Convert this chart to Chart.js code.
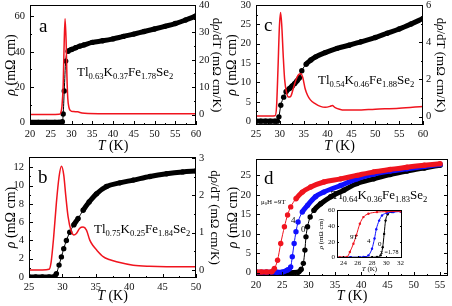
<!DOCTYPE html>
<html><head><meta charset="utf-8">
<script src="https://cdn.jsdelivr.net/npm/chart.js@4.4.0/dist/chart.umd.min.js"></script>
<style>
html,body{margin:0;padding:0;background:#fff;width:452px;height:306px;overflow:hidden;position:relative}
canvas{position:absolute;}
</style></head><body>
<canvas id="ca" width="226" height="153" style="left:0;top:0"></canvas>
<canvas id="cc" width="226" height="153" style="left:226px;top:0"></canvas>
<canvas id="cb" width="226" height="153" style="left:0;top:153px"></canvas>
<canvas id="cd" width="226" height="153" style="left:226px;top:153px"></canvas>
<canvas id="ci" width="92" height="72" style="left:316px;top:203px"></canvas>
<script>
// ---------- DATA ----------
// Panel a: Tl0.63K0.37Fe1.78Se2
const aT    = [20,22,24,26,27,27.8,28.0,28.25,28.6,29.2,30,31,32,33,35,37.5,40,42.5,45,47.5,50,52.5,55,57.5,60];
const aRho  = [0,0,0,0,0,0.3,4.7,17.8,34.7,40.3,41.3,42.3,43.2,43.9,45.3,46.2,47.3,48.7,50.0,51.5,52.9,54.4,56.0,58.0,60.3];
const aDT   = [20,25,27,27.4,27.7,28.0,28.2,28.45,28.7,28.9,29.1,29.4,29.8,30.5,31.5,32.5,34,40,50,60];
const aDrdT = [0,0,0.1,0.6,3,11,24,35,27,14,6,2.5,1.4,1.1,1.0,0.6,0.4,0.3,0.3,0.3];

// Panel c: Tl0.54K0.46Fe1.88Se2
const cT    = [25,26,27,28,29,29.5,29.8,30.2,30.8,31.3,32,32.6,33.1,33.6,34.1,34.6,35.5,36.5,37.5,39.5,42,44.5,47,50,52.5,55,57.5,60];
const cRho  = [0,0,0,0,0,0,1.1,4.1,6.2,7.6,8.4,9.1,9.7,10.4,11.2,13,14.7,15.8,16.6,17.7,18.8,19.6,20.5,21.6,22.7,23.8,25.1,26.5];
const cDT   = [25,28,29,29.3,29.6,29.9,30.15,30.4,30.7,31.0,31.4,31.8,32.3,32.8,33.4,33.9,34.4,34.8,35.3,35.8,36.4,37.4,38.5,39.5,40.5,41.0,41.5,42.5,43.5,46,50,55,60];
const cDrdT = [0.03,0.03,0.05,0.5,2.5,4.8,5.6,4.9,3.3,2.0,1.3,1.05,1.1,1.5,2.0,2.25,2.3,2.1,1.5,1.15,0.9,0.7,0.55,0.5,0.55,0.6,0.5,0.4,0.35,0.35,0.4,0.45,0.55];

// Panel b: Tl0.75K0.25Fe1.84Se2
const bT    = [25,26,27,28,28.7,29.1,29.5,29.85,30.2,30.6,31.1,31.7,32.35,33.1,34,35.1,36.6,38.6,40.6,43.1,45.6,48,50];
const bRho  = [0,0,0,0,0,0.37,1.3,2.2,3.1,4.0,4.9,5.7,6.4,7.3,8.2,9.1,9.9,10.3,10.6,11.0,11.3,11.5,11.6];
const bDT   = [25,27,28,28.3,28.7,29.1,29.5,29.85,30.2,30.5,30.85,31.3,31.7,32.1,32.6,33.1,33.6,34.1,34.6,35.1,36.1,37,38.1,40.6,43,45.6,50];
const bDrdT = [0,0,0.02,0.2,0.9,1.8,2.5,2.78,2.55,2.0,1.43,1.05,0.94,0.98,1.12,1.15,1.07,0.8,0.65,0.54,0.36,0.28,0.22,0.13,0.1,0.09,0.09];

// Panel d: Tl0.64K0.36Fe1.83Se2, fields 9T / 4T / 0T
const d9T = [20,21,22,23,23.5,24.1,24.7,25.4,26,26.6,27.6,28.8,30.4,32.9,36.1,39.2,42.4,45.5,48.7,52,55];
const d9R = [0.2,0.2,0.2,0.25,1.1,3.2,7.5,11.8,14.8,16.9,19,20.7,22,23.3,24.1,25,25.9,26.5,27.1,27.6,28];
const d4T = [20,22,24,25,26,26.6,26.9,27.25,27.6,28,28.8,29.8,31.3,32.9,36.1,39.2,42.4,45.5,48.7,52,55];
const d4R = [0.1,0.1,0.1,0.15,0.7,1.5,4.1,7.5,10.5,13,15.6,17.3,19.5,20.7,22.4,24.1,25.3,26.1,26.7,27.3,27.8];
const d0T = [20,22,24,26,28,28.6,29,29.3,29.5,29.8,30.3,31,32.3,34.2,36.7,39.2,42.4,45.5,48.7,52,55];
const d0R = [0,0,0,0,0.1,0.9,2.4,5.8,9.2,11.8,14.3,16,17.7,19.5,21.2,22.9,24.1,25.2,26.1,26.9,27.6];

// Inset of d: x = 1.78
const i9T = [23,23.5,24,24.5,24.9,25.4,25.8,26.3,26.8,27.5,28.7,30,32];
const i9R = [0,0,0.2,0.4,6.8,17.4,28,43,51.5,55.7,57.9,58.5,59];
const i4T = [23,25,26.3,26.8,27.5,28,28.35,28.6,29,29.4,30.1,31,32];
const i4R = [0,0,0.1,0.4,2.5,11,24,36,47,53.6,56.6,58,58.7];
const i0T = [23,25,27,28,28.7,29.2,29.5,29.7,29.9,30.2,30.8,32];
const i0R = [0,0,0,0,0.4,2.5,13,30,47,55,58,59];

// Tick labels
const aXTicks = [20,25,30,35,40,45,50,55,60];
const aYTicks = [0,20,40,60];
const aY2Ticks = [0,10,20,30,40];
const cXTicks = [25,30,35,40,45,50,55,60];
const cYTicks = [0,5,10,15,20,25,30];
const cY2Ticks = [0,2,4,6];
const bXTicks = [25,30,35,40,45,50];
const bYTicks = [0,2,4,6,8,10,12];
const bY2Ticks = [0,1,2,3];
const dXTicks = [20,25,30,35,40,45,50,55];
const dYTicks = [0,5,10,15,20,25];
const iXTicks = [24,26,28,30,32];
const iYTicks = [0,20,40,60];

// ---------- HELPERS ----------
const FF = '"Liberation Serif","Times New Roman",serif';
const RED = '#f0141e', BLUE = '#1010ff', BLACK = '#000';
const pts = (X, Y) => X.map((x, i) => ({x, y: Y[i]}));
const mids = (arr) => arr.slice(0, -1).map((v, i) => (v + arr[i + 1]) / 2);

function drawRich(ctx, parts, x, y, size, align, rot) {
  ctx.save();
  ctx.translate(x, y);
  if (rot) ctx.rotate(rot);
  let w = 0;
  const items = parts.map(([t, s]) => {
    const fs = s === 'sub' ? size * 0.66 : size;
    const f = (s === 'i' ? 'italic ' : '') + fs + 'px ' + FF;
    ctx.font = f;
    const tw = ctx.measureText(t).width;
    w += tw;
    return {t, f, tw, dy: s === 'sub' ? size * 0.3 : 0};
  });
  let cx = align === 'center' ? -w / 2 : (align === 'right' ? -w : 0);
  ctx.textBaseline = 'middle';
  ctx.textAlign = 'left';
  ctx.fillStyle = '#000';
  for (const p of items) { ctx.font = p.f; ctx.fillText(p.t, cx, p.dy); cx += p.tw; }
  ctx.restore();
}
function formula(els, subs) {
  const out = [];
  els.forEach((e, i) => { out.push([e, 'n']); out.push([subs[i], 'sub']); });
  return out;
}

const decor = {
  id: 'decor',
  afterDraw(chart, args, o) {
    const {ctx, chartArea: ca, scales} = chart;
    ctx.save();
    ctx.strokeStyle = '#000';
    ctx.lineWidth = 1;
    ctx.strokeRect(Math.round(ca.left) + 0.5, Math.round(ca.top) + 0.5,
      Math.round(ca.right - ca.left) - 1, Math.round(ca.bottom - ca.top) - 1);
    const L = o.tickLen || 4, l = o.minorLen || 2;
    for (const t of (o.ticks || [])) {
      const sc = scales[t.scale];
      const draw = (v, len) => {
        const p = Math.round(sc.getPixelForValue(v)) + 0.5;
        ctx.beginPath();
        if (t.side === 'bottom') { ctx.moveTo(p, ca.bottom); ctx.lineTo(p, ca.bottom - len); }
        else if (t.side === 'top') { ctx.moveTo(p, ca.top); ctx.lineTo(p, ca.top + len); }
        else if (t.side === 'left') { ctx.moveTo(ca.left, p); ctx.lineTo(ca.left + len, p); }
        else { ctx.moveTo(ca.right, p); ctx.lineTo(ca.right - len, p); }
        ctx.stroke();
      };
      t.major.forEach(v => draw(v, L));
      t.minor.forEach(v => draw(v, l));
    }
    const cy = (ca.top + ca.bottom) / 2, cx = (ca.left + ca.right) / 2;
    if (o.yTitle) drawRich(ctx, o.yTitle.parts, o.yTitle.x, cy, o.titleSize, 'center', -Math.PI / 2);
    if (o.y2Title) drawRich(ctx, o.y2Title.parts, o.y2Title.x, cy, o.y2Size || o.titleSize, 'center', Math.PI / 2);
    if (o.xTitle) drawRich(ctx, o.xTitle.parts, cx, o.xTitle.y, o.titleSize, 'center', 0);
    for (const t of (o.texts || [])) drawRich(ctx, t.parts, t.x, t.y, t.size, t.align || 'left', 0);
    ctx.restore();
  }
};
const bgPlugin = {
  id: 'bg',
  beforeDraw(chart, args, o) {
    if (!o.color) return;
    const {ctx, chartArea: ca} = chart;
    ctx.save(); ctx.fillStyle = o.color;
    ctx.fillRect(ca.left, ca.top, ca.right - ca.left, ca.bottom - ca.top);
    ctx.restore();
  }
};

function bandSeries(X, Y, axis, color, radius, thick) {
  return {
    data: pts(X, Y), yAxisID: axis, showLine: true,
    borderColor: color, backgroundColor: color,
    pointRadius: radius, pointBorderWidth: 0, pointBackgroundColor: color,
    cubicInterpolationMode: 'monotone',
    borderWidth: thick,
    segment: {
      borderWidth: c => {
        const dx = Math.abs(c.p1.x - c.p0.x), dy = Math.abs(c.p1.y - c.p0.y);
        return (dy > 1.5 * dx && dy > 4) ? 1 : thick;
      }
    }
  };
}
function lineSeries(X, Y, axis, color, w) {
  return {
    data: pts(X, Y), yAxisID: axis, showLine: true,
    borderColor: color, backgroundColor: color, pointRadius: 0,
    borderWidth: w, cubicInterpolationMode: 'monotone'
  };
}

function makeScale(pos, min, max, ticks, fitFn, fontSize, pad, showLabels) {
  return {
    type: 'linear', position: pos, min, max,
    grid: {display: false, drawTicks: false}, border: {display: false},
    afterBuildTicks: s => { s.ticks = ticks.map(v => ({value: v})); },
    afterFit: fitFn,
    ticks: {display: showLabels !== false, font: {family: FF, size: fontSize}, color: '#111', padding: pad,
            maxRotation: 0, autoSkip: false}
  };
}

function panel(id, spec) {
  const cv = document.getElementById(id);
  const W = cv.width, H = cv.height, A = spec.area, fs = spec.fontSize || 10.5;
  const scales = {
    x: makeScale('bottom', spec.x.min, spec.x.max, spec.x.ticks,
      s => { s.height = H - A.b; s.paddingLeft = 0; s.paddingRight = 0; }, fs, spec.x.pad ?? 3),
    y: makeScale('left', spec.y.min, spec.y.max, spec.y.ticks,
      s => { s.width = A.l; s.paddingTop = 0; s.paddingBottom = 0; }, fs, spec.y.pad ?? 5),
    y2: makeScale('right', spec.y2.min, spec.y2.max, spec.y2.ticks,
      s => { s.width = W - A.r; s.paddingTop = 0; s.paddingBottom = 0; }, fs, spec.y2.pad ?? 3, spec.y2.labels)
  };
  return new Chart(cv, {
    type: 'scatter',
    data: {datasets: spec.datasets},
    options: {
      responsive: false, animation: false, devicePixelRatio: 1, events: [],
      layout: {padding: {top: A.t, left: 0, right: 0, bottom: 0}},
      scales,
      plugins: {legend: {display: false}, tooltip: {enabled: false},
                decor: spec.decor, bg: {color: spec.bg}}
    },
    plugins: [bgPlugin, decor]
  });
}

const rhoTitle = [['ρ', 'i'], [' (mΩ cm)', 'n']];
const drdtTitle = [['d', 'n'], ['ρ', 'i'], ['/dT (mΩ cm/K)', 'n']];
const tTitle = [['T', 'i'], [' (K)', 'n']];
const TS = 14, TS2 = 13;

// ---------- PANEL a ----------
panel('ca', {
  area: {l: 30, r: 196, t: 5, b: 125},
  x: {min: 20, max: 60, ticks: aXTicks},
  y: {min: -1.5, max: 66.5, ticks: aYTicks},
  y2: {min: -3.8, max: 40, ticks: aY2Ticks},
  datasets: [lineSeries(aDT, aDrdT, 'y2', RED, 1.5), bandSeries(aT, aRho, 'y', BLACK, 2.7, 5)],
  decor: {
    titleSize: TS, y2Size: TS2,
    ticks: [
      {scale: 'x', side: 'bottom', major: aXTicks, minor: mids(aXTicks)},
      {scale: 'y', side: 'left', major: aYTicks, minor: mids(aYTicks)},
      {scale: 'y2', side: 'right', major: aY2Ticks, minor: mids(aY2Ticks)}
    ],
    yTitle: {parts: rhoTitle, x: 11},
    y2Title: {parts: drdtTitle, x: 216},
    xTitle: {parts: tTitle, y: 146},
    texts: [
      {parts: [['a', 'n']], x: 39, y: 27, size: 19},
      {parts: formula(['Tl', 'K', 'Fe', 'Se'], ['0.63', '0.37', '1.78', '2']), x: 77, y: 73, size: 13}
    ]
  }
});

// ---------- PANEL c ----------
panel('cc', {
  area: {l: 30, r: 197, t: 5, b: 125},
  x: {min: 25, max: 60, ticks: cXTicks},
  y: {min: -1, max: 30, ticks: cYTicks},
  y2: {min: -0.45, max: 6, ticks: cY2Ticks},
  datasets: [lineSeries(cDT, cDrdT, 'y2', RED, 1.5), bandSeries(cT, cRho, 'y', BLACK, 2.7, 5)],
  decor: {
    titleSize: TS, y2Size: TS2,
    ticks: [
      {scale: 'x', side: 'bottom', major: cXTicks, minor: mids(cXTicks)},
      {scale: 'y', side: 'left', major: cYTicks, minor: mids(cYTicks)},
      {scale: 'y2', side: 'right', major: cY2Ticks, minor: mids(cY2Ticks)}
    ],
    yTitle: {parts: rhoTitle, x: 6},
    y2Title: {parts: drdtTitle, x: 214},
    xTitle: {parts: tTitle, y: 146},
    texts: [
      {parts: [['c', 'n']], x: 38, y: 26, size: 19},
      {parts: formula(['Tl', 'K', 'Fe', 'Se'], ['0.54', '0.46', '1.88', '2']), x: 92, y: 81, size: 13}
    ]
  }
});

// ---------- PANEL b ----------
panel('cb', {
  area: {l: 29, r: 196, t: 4, b: 125},
  x: {min: 25, max: 50, ticks: bXTicks},
  y: {min: -0.11, max: 13.13, ticks: bYTicks},
  y2: {min: -0.215, max: 3.03, ticks: bY2Ticks},
  datasets: [lineSeries(bDT, bDrdT, 'y2', RED, 1.5), bandSeries(bT, bRho, 'y', BLACK, 2.7, 5)],
  decor: {
    titleSize: TS, y2Size: TS2,
    ticks: [
      {scale: 'x', side: 'bottom', major: bXTicks, minor: mids(bXTicks)},
      {scale: 'y', side: 'left', major: bYTicks, minor: mids(bYTicks)},
      {scale: 'y2', side: 'right', major: bY2Ticks, minor: mids(bY2Ticks)}
    ],
    yTitle: {parts: rhoTitle, x: 11},
    y2Title: {parts: drdtTitle, x: 214},
    xTitle: {parts: tTitle, y: 143},
    texts: [
      {parts: [['b', 'n']], x: 38, y: 25, size: 19},
      {parts: formula(['Tl', 'K', 'Fe', 'Se'], ['0.75', '0.25', '1.84', '2']), x: 94, y: 77, size: 13}
    ]
  }
});

// ---------- PANEL d ----------
panel('cd', {
  area: {l: 30, r: 223, t: 6, b: 123},
  x: {min: 20, max: 56.5, ticks: dXTicks},
  y: {min: -0.85, max: 29.2, ticks: dYTicks},
  y2: {min: -0.85, max: 29.2, ticks: dYTicks, labels: false},
  datasets: [
    bandSeries(d9T, d9R, 'y', RED, 2.7, 5),
    bandSeries(d4T, d4R, 'y', BLUE, 2.7, 5),
    bandSeries(d0T, d0R, 'y', BLACK, 2.7, 5)
  ],
  decor: {
    titleSize: TS,
    ticks: [
      {scale: 'x', side: 'bottom', major: dXTicks, minor: mids(dXTicks)},
      {scale: 'y', side: 'left', major: dYTicks, minor: mids(dYTicks)},
      {scale: 'y', side: 'right', major: dYTicks, minor: mids(dYTicks)}
    ],
    yTitle: {parts: rhoTitle, x: 7},
    xTitle: {parts: tTitle, y: 143},
    texts: [
      {parts: [['d', 'n']], x: 38, y: 26, size: 19},
      {parts: [['μ', 'n'], ['0', 'sub'], ['H =9T', 'n']], x: 35, y: 49, size: 7},
      {parts: [['4', 'n']], x: 65, y: 68, size: 9},
      {parts: [['0', 'n']], x: 75, y: 77, size: 9},
      {parts: formula(['Tl', 'K', 'Fe', 'Se'], ['0.64', '0.36', '1.83', '2']), x: 105, y: 43, size: 13}
    ]
  }
});

// ---------- INSET ----------
panel('ci', {
  area: {l: 21, r: 86, t: 7, b: 55},
  fontSize: 7,
  bg: '#fff',
  x: {min: 23.1, max: 32.2, ticks: iXTicks, pad: 1},
  y: {min: -0.9, max: 60.6, ticks: iYTicks, pad: 2},
  y2: {min: -0.9, max: 60.6, ticks: iYTicks, labels: false},
  datasets: [
    bandSeries(i9T, i9R, 'y', RED, 1.2, 1),
    bandSeries(i4T, i4R, 'y', BLUE, 1.2, 1),
    bandSeries(i0T, i0R, 'y', BLACK, 1.2, 1)
  ],
  decor: {
    titleSize: 7, tickLen: 2, minorLen: 1,
    ticks: [
      {scale: 'x', side: 'bottom', major: iXTicks, minor: mids(iXTicks)},
      {scale: 'y', side: 'left', major: iYTicks, minor: mids(iYTicks)},
      {scale: 'y', side: 'right', major: iYTicks, minor: mids(iYTicks)}
    ],
    yTitle: {parts: rhoTitle, x: 5},
    xTitle: {parts: tTitle, y: 66},
    texts: [
      {parts: [['9T', 'n']], x: 34, y: 34, size: 7},
      {parts: [['4', 'n']], x: 51, y: 38, size: 7},
      {parts: [['0', 'n']], x: 62, y: 41, size: 7},
      {parts: [['x =1.78', 'n']], x: 64, y: 49, size: 6}
    ]
  }
});
</script>
</body></html>
